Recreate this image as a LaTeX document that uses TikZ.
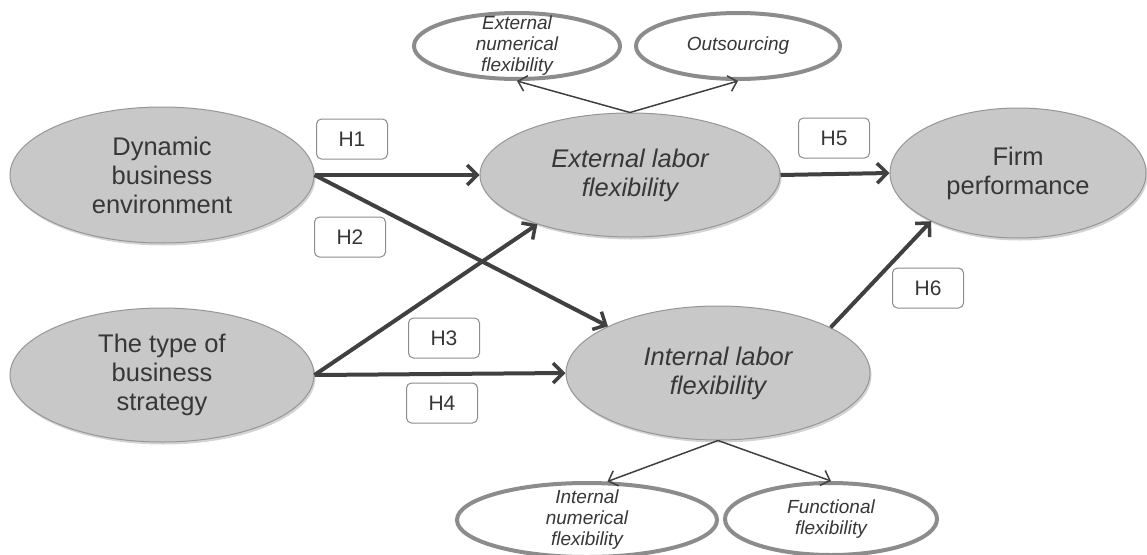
\documentclass[tikz,border=0pt]{standalone}
\usepackage{fontspec}
\setmainfont{Liberation Sans}
\usetikzlibrary{shapes.geometric,arrows.meta,shadows}
\definecolor{ellfill}{RGB}{200,200,200}
\definecolor{ellline}{RGB}{150,150,150}
\definecolor{smline}{RGB}{140,140,140}
\definecolor{txt}{RGB}{55,55,55}
\definecolor{arr}{RGB}{64,64,64}
\definecolor{boxline}{RGB}{140,140,140}
\tikzset{
  bigell/.style={ellipse, fill=ellfill, draw=ellline, line width=1pt, inner sep=0pt,
    text=txt, align=center, font=\fontsize{25.5}{29}\selectfont,
    drop shadow={shadow xshift=1.5pt, shadow yshift=-2.5pt, opacity=0.35}},
  smell/.style={ellipse, draw=smline, fill=white, line width=4pt, inner xsep=0pt, inner ysep=-15pt,
    text=txt, align=center, font=\fontsize{19}{21}\selectfont\itshape},
  hbox/.style={draw=boxline, fill=white, rounded corners=5pt, line width=1pt,
    minimum width=71pt, minimum height=40pt, inner sep=0pt, text=txt,
    font=\fontsize{21}{22}\selectfont},
  thick arrow/.style={draw=arr, line width=4pt, -{Straight Barb[length=10pt,width=20pt,line width=3.5pt]}},
  thin arrow/.style={draw=arr, line width=1.5pt, -{Straight Barb[length=8pt,width=16pt,line width=1.5pt]}},
}
\begin{document}
\begin{tikzpicture}[x=1pt,y=-1pt]
\useasboundingbox (0,0) rectangle (1147,554);
% small ellipses
\node[smell, minimum width=206pt, minimum height=66pt] (enf) at (517,46) {External\\numerical\\flexibility};
\node[smell, minimum width=204pt, minimum height=66pt] (out) at (738,46) {Outsourcing};
\node[smell, minimum width=260pt, minimum height=74pt] (inf) at (587,520) {Internal\\numerical\\flexibility};
\node[smell, minimum width=212pt, minimum height=72pt] (fun) at (831,519) {Functional\\flexibility};
% main ellipses
\node[bigell, minimum width=304pt, minimum height=136pt] (dyn) at (162,175) {Dynamic\\business\\environment};
\node[bigell, minimum width=304pt, minimum height=134pt] (typ) at (162,375) {The type of\\business\\strategy};
\node[bigell, minimum width=300pt, minimum height=124pt, font=\fontsize{25.5}{29}\selectfont\itshape] (ext) at (630,175) {External labor\\flexibility};
\node[bigell, minimum width=304pt, minimum height=134pt, font=\fontsize{25.5}{29}\selectfont\itshape] (int) at (718,373) {Internal labor\\flexibility};
\node[bigell, minimum width=256pt, minimum height=130pt] (firm) at (1018,173) {Firm\\performance};
% hypothesis boxes
\node[hbox] (h1) at (352,139) {H1};
\node[hbox] (h2) at (350,237) {H2};
\node[hbox] (h3) at (444,338) {H3};
\node[hbox] (h4) at (442,403) {H4};
\node[hbox] (h5) at (834,138) {H5};
\node[hbox] (h6) at (928,288) {H6};
% thick arrows
\draw[thick arrow] (dyn.east) -- (ext.west);
\draw[thick arrow] (dyn.east) -- (int.157);
\draw[thick arrow] (typ.east) -- (ext.208);
\draw[thick arrow] (typ.east) -- (int.west);
\draw[thick arrow] (ext.east) -- (firm.west);
\draw[thick arrow] (int.22) -- (firm.209);
% thin arrows
\draw[thin arrow] (ext.north) -- (enf.south);
\draw[thin arrow] (ext.north) -- (out.south);
\draw[thin arrow] (int.south) -- (inf.62);
\draw[thin arrow] (int.south) -- (fun.north);
\end{tikzpicture}
\end{document}
